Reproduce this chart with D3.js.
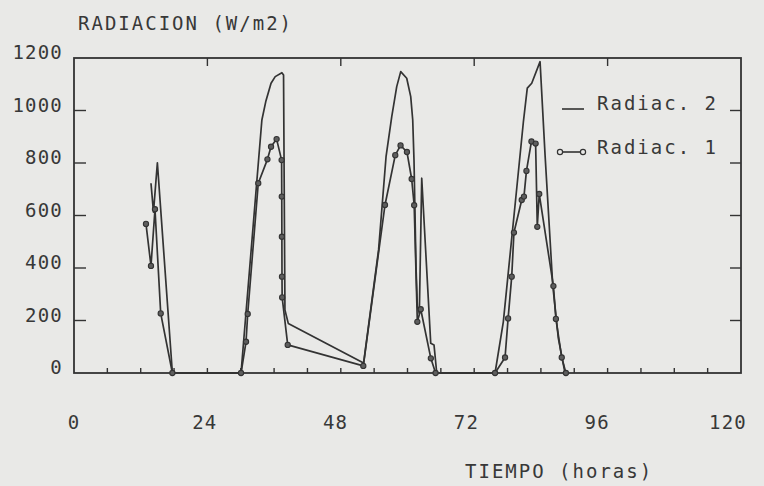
<!DOCTYPE html>
<html>
<head>
<meta charset="utf-8">
<script src="https://cdn.jsdelivr.net/npm/d3@7"></script>
<style>
  html, body { margin: 0; padding: 0; background: #e9e9e7; }
  svg { display: block; }
  text { font-family: "DejaVu Sans Mono", "Liberation Mono", monospace; fill: #383838; }
</style>
</head>
<body>
<div id="chart"></div>
<script>
// Radiac. 1 (con marcadores): horas y W/m2
const hours1 = [12.95, 13.85, 14.57, 15.6, 17.7, 30.05, 30.95, 31.25, 33.15, 34.8, 35.45, 36.45,
  37.35, 37.38, 37.4, 37.42, 37.45, 38.45, 52.05, 55.95, 57.8, 58.75, 59.9, 60.75, 61.2, 61.77,
  62.38, 64.2, 65.05, 75.75, 77.55, 78.1, 78.75, 79.15, 80.55, 80.95, 81.4, 82.3, 83.05, 83.35,
  83.7, 86.25, 86.7, 87.75, 88.5];
const rad1 = [568, 408, 624, 227, 0, 0, 119, 225, 723, 814, 862, 891,
  811, 672, 519, 367, 288, 107, 27, 640, 830, 867, 842, 739, 639, 195,
  243, 56, 0, 0, 59, 208, 367, 535, 659, 672, 770, 882, 874, 557,
  682, 331, 206, 59, 0];

// Radiac. 2 (linea sola)
const hours2 = [13.85, 14.3, 15.0, 17.7, 30.05, 33.8, 34.5, 35.45, 36.2, 37.4, 37.7, 37.95, 38.55,
  52.1, 54.8, 56.14, 57.16, 58.06, 58.78, 59.86, 60.58, 60.94, 61.17, 61.53, 61.77, 62.13, 62.56,
  64.18, 64.77, 65.26, 75.75, 77.24, 78.45, 79.65, 80.85, 81.55, 82.35, 83.85, 84.75, 86.13,
  87.14, 88.34];
const rad2 = [723, 613, 801, 0, 0, 964, 1034, 1104, 1129, 1144, 1135, 240, 189,
  38, 470, 824, 976, 1091, 1148, 1123, 1053, 964, 811, 405, 253, 227, 742,
  113, 107, 0, 0, 195, 450, 703, 957, 1085, 1104, 1186, 830, 335,
  132, 0];

// Etiquetas de los ejes
const xTicks = [0, 24, 48, 72, 96, 120];
const xMinor = d3.range(0, 121, 6);
const yTicks = [0, 200, 400, 600, 800, 1000, 1200];
const seriesNames = ["Radiac. 2", "Radiac. 1"];

const w = 764, h = 486;
const padLeft = 74, padRight = 741, padTop = 58, padBottom = 373;
const ink = "#333";

const x = d3.scaleLinear().domain([0, 120]).range([padLeft, padRight]);
const y = d3.scaleLinear().domain([0, 1200]).range([padBottom, padTop]);

const svg = d3.select("#chart").append("svg")
  .attr("width", w)
  .attr("height", h);

// Marco del grafico
svg.append("rect")
  .attr("x", padLeft).attr("y", padTop)
  .attr("width", padRight - padLeft).attr("height", padBottom - padTop)
  .attr("fill", "none").attr("stroke", ink).attr("stroke-width", 1.8);

// Ticks: izquierda y derecha hacia dentro
const yInner = yTicks.filter(v => v > 0 && v < 1200);
svg.append("g").selectAll("line").data(yInner).enter().append("line")
  .attr("x1", padLeft).attr("x2", padLeft + 12)
  .attr("y1", d => y(d)).attr("y2", d => y(d))
  .attr("stroke", ink).attr("stroke-width", 1.4);
svg.append("g").selectAll("line").data(yInner).enter().append("line")
  .attr("x1", padRight).attr("x2", padRight - 11)
  .attr("y1", d => y(d)).attr("y2", d => y(d))
  .attr("stroke", ink).attr("stroke-width", 1.4);

// Ticks abajo cada 6 h, arriba cada 24 h
svg.append("g").selectAll("line").data(xMinor.filter(v => v > 0 && v < 120)).enter().append("line")
  .attr("x1", d => x(d)).attr("x2", d => x(d))
  .attr("y1", padBottom).attr("y2", padBottom - 5)
  .attr("stroke", ink).attr("stroke-width", 1.4);
svg.append("g").selectAll("line").data(xTicks.filter(v => v > 0 && v < 120)).enter().append("line")
  .attr("x1", d => x(d)).attr("x2", d => x(d))
  .attr("y1", padTop).attr("y2", padTop + 8)
  .attr("stroke", ink).attr("stroke-width", 1.4);

// Etiquetas
svg.append("g").selectAll("text").data(yTicks).enter().append("text")
  .attr("x", 63)
  .attr("y", d => y(d) + 1)
  .attr("text-anchor", "end")
  .attr("font-size", 19)
  .attr("letter-spacing", 1.2)
  .text(d => d);

svg.append("g").selectAll("text").data(xTicks).enter().append("text")
  .attr("x", (d, i) => x(d) - i * 2.6)
  .attr("y", 429)
  .attr("text-anchor", "middle")
  .attr("font-size", 19)
  .attr("letter-spacing", 1.2)
  .text(d => d);

svg.append("text")
  .attr("x", 78).attr("y", 30)
  .attr("font-size", 19)
  .attr("letter-spacing", 2)
  .text("RADIACION (W/m2)");

svg.append("text")
  .attr("x", 465).attr("y", 478)
  .attr("font-size", 19)
  .attr("letter-spacing", 2)
  .text("TIEMPO (horas)");

// Lineas
const line = d3.line().x(d => x(d[0])).y(d => y(d[1]));
const data1 = hours1.map((t, i) => [t, rad1[i]]);
const data2 = hours2.map((t, i) => [t, rad2[i]]);

svg.append("path").datum(data2)
  .attr("d", line)
  .attr("fill", "none").attr("stroke", ink).attr("stroke-width", 1.7)
  .attr("stroke-linejoin", "round");

svg.append("path").datum(data1)
  .attr("d", line)
  .attr("fill", "none").attr("stroke", ink).attr("stroke-width", 1.7)
  .attr("stroke-linejoin", "round");

svg.append("g").selectAll("circle").data(data1).enter().append("circle")
  .attr("cx", d => x(d[0])).attr("cy", d => y(d[1]))
  .attr("r", 2.6)
  .attr("fill", "#5e5e5e").attr("stroke", ink).attr("stroke-width", 1.1);

// Leyenda
const lg = svg.append("g");
lg.append("line")
  .attr("x1", 562).attr("x2", 584).attr("y1", 109).attr("y2", 109)
  .attr("stroke", ink).attr("stroke-width", 1.6);
lg.append("line")
  .attr("x1", 560).attr("x2", 583).attr("y1", 152).attr("y2", 152)
  .attr("stroke", ink).attr("stroke-width", 1.6);
lg.selectAll("circle").data([560, 583]).enter().append("circle")
  .attr("cx", d => d).attr("cy", 152).attr("r", 2.6)
  .attr("fill", "#e9e9e7").attr("stroke", ink).attr("stroke-width", 1.2);
lg.selectAll("text").data(seriesNames).enter().append("text")
  .attr("x", 597)
  .attr("y", (d, i) => 110 + i * 44)
  .attr("font-size", 19)
  .attr("letter-spacing", 2)
  .text(d => d);
</script>
</body>
</html>
